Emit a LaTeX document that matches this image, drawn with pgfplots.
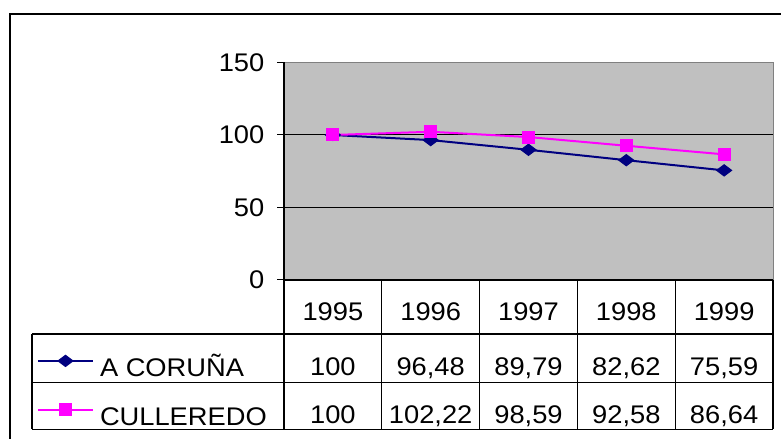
\documentclass[border=0pt]{standalone}
\usepackage{fontspec}
\setmainfont{Liberation Sans}[FakeStretch=1.07]
\usepackage{pgfplots}
\pgfplotsset{compat=1.18}
\definecolor{navyc}{HTML}{000080}
\definecolor{magc}{HTML}{FF00FF}
\definecolor{plotgray}{HTML}{C0C0C0}
\newcommand\cf{\fontsize{25.5bp}{30bp}\selectfont}
\begin{document}
\begin{tikzpicture}[x=1bp,y=1bp]
\useasboundingbox (0,0) rectangle (781,439);
\begin{axis}[
  at={(284bp,159bp)}, anchor=south west,
  scale only axis, width=489bp, height=217.5bp,
  xmin=-0.5, xmax=4.5, ymin=0, ymax=150,
  xtick=\empty, ytick={0,50,100,150}, ytick pos=left,
  extra y ticks={50,100}, extra y tick labels={},
  extra y tick style={grid=major, major tick length=0pt},
  grid style={black, line width=1bp},
  axis background/.style={fill=plotgray},
  axis line style={draw=gray, line width=1bp},
  tick align=outside, major tick length=7bp,
  ytick style={black, line width=1bp},
  tick label style={font=\cf},
  yticklabel style={inner sep=0pt, xshift=-12.5bp},
  /pgf/number format/assume math mode=true,
  clip=false,
  legend cell align=left,
  legend style={draw=none, fill=none, inner sep=0pt, outer sep=0pt,
    row sep=8.7bp, column sep=6bp, font=\cf,
    at={(axis description cs:-0.50511,-0.28)}, anchor=north west,
    nodes={inner sep=0pt, text height=36bp, text depth=4bp}},
  legend image code/.code={\draw[mark repeat=2, mark phase=2,#1] plot coordinates {(0bp,0bp)(27.5bp,0bp)(55bp,0bp)};},
]
\addplot[navyc, line width=2bp, mark=diamond*, mark size=7.5bp,
  mark options={rotate=90, solid, fill=navyc, line width=1bp}]
  coordinates {(0,100)(1,96.48)(2,89.79)(3,82.62)(4,75.59)};
\addlegendentry{A CORUÑA}
\addplot[magc, line width=2bp, mark=square*, mark size=6bp,
  mark options={solid, fill=magc, line width=1bp}]
  coordinates {(0,100)(1,102.22)(2,98.59)(3,92.58)(4,86.64)};
\addlegendentry{CULLEREDO}
\end{axis}
% outer frame
\draw[black, line width=2bp] (10,-10) -- (10,425) -- (800,425);
% table grid
\draw[black, line width=1.3bp] (284,376.5) -- (284,9.7);
\draw[black, line width=1.3bp] (284,159) -- (773,159);
\foreach \x in {381.8,479.6,577.4,675.2,773} \draw[black, line width=1.3bp] (\x,159) -- (\x,9.7);
\draw[black, line width=1.3bp] (32,105) -- (773,105);
\draw[black, line width=1.3bp] (32,56.3) -- (773,56.3);
\draw[black, line width=1.3bp] (32,9.7) -- (773,9.7);
\draw[black, line width=1.3bp] (32,105) -- (32,9.7);
% header and values
\foreach \y [count=\i from 0] in {1995,1996,1997,1998,1999}
  \node[font=\cf, anchor=base, inner sep=0pt] at (332.9+97.8*\i,118) {\y};
\foreach \v [count=\i from 0] in {100,{96,48},{89,79},{82,62},{75,59}}
  \node[font=\cf, anchor=base, inner sep=0pt] at (332.9+97.8*\i,63) {\v};
\foreach \v [count=\i from 0] in {100,{102,22},{98,59},{92,58},{86,64}}
  \node[font=\cf, anchor=base, inner sep=0pt] at (332.9+97.8*\i,15) {\v};
\end{tikzpicture}
\end{document}
